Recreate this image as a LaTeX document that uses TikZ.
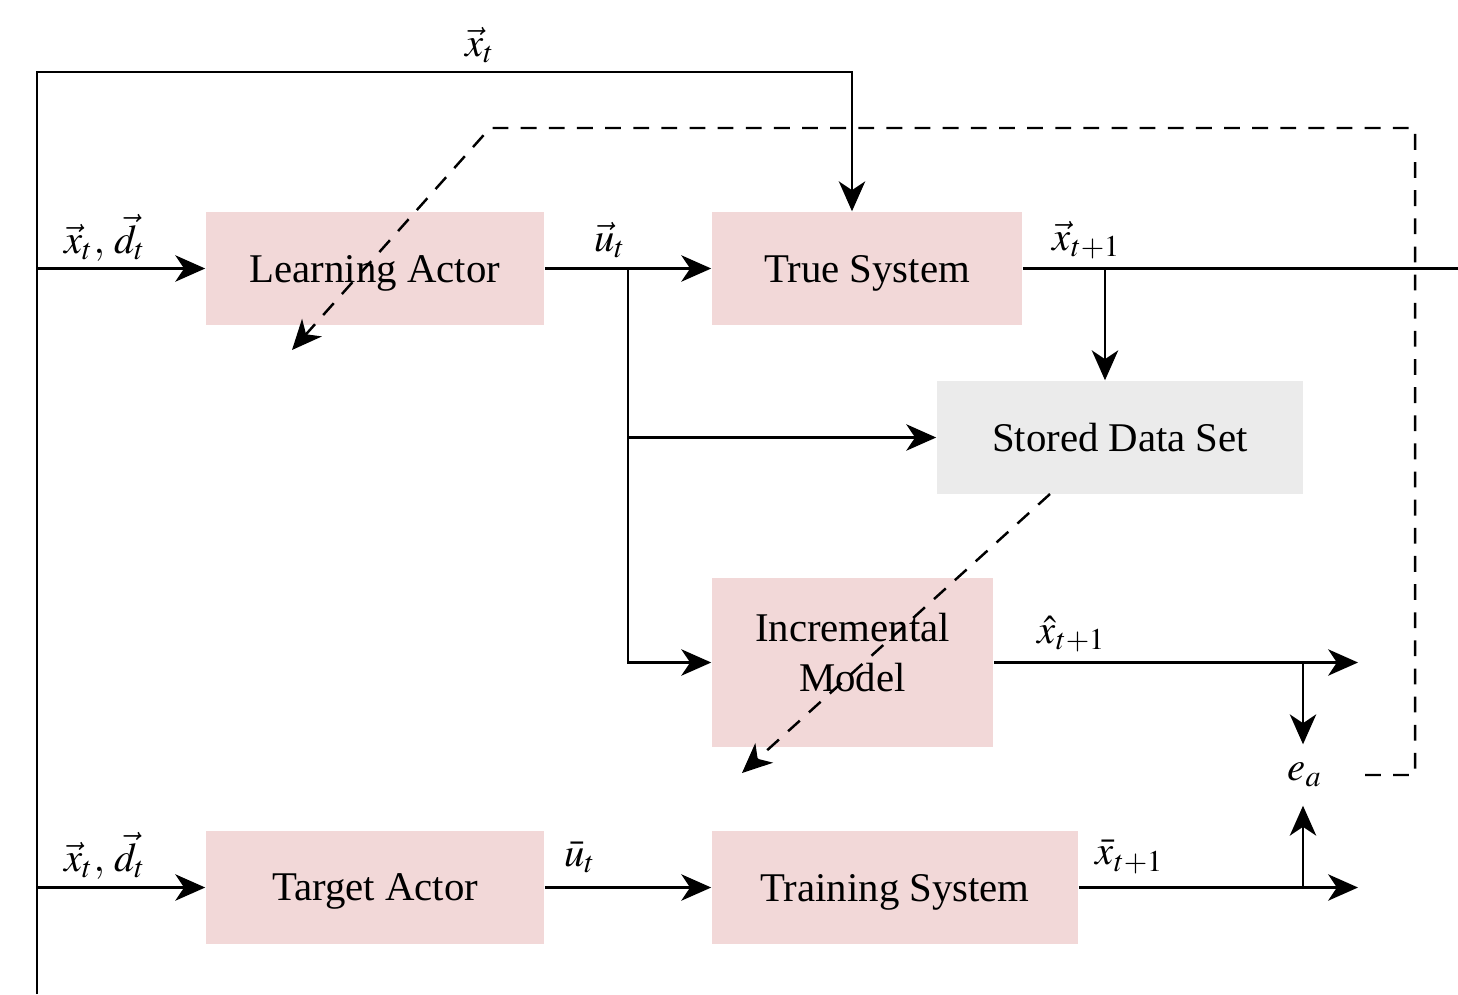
\documentclass[tikz,border=0pt]{standalone}
\usepackage{mathptmx}
\usepackage{fontspec}
\setmainfont{Liberation Serif}
\usetikzlibrary{arrows.meta}
\definecolor{boxpink}{RGB}{242,216,216}
\definecolor{boxgray}{RGB}{235,235,235}
\tikzset{
  blk/.style={fill=boxpink, draw=none, inner sep=0pt, text depth=0pt, font=\fontsize{11.6}{14}\selectfont},
  gblk/.style={blk, fill=boxgray},
  conn/.style={line width=0.7pt},
  tip/.style={-{Stealth[length=8.5pt, width=7.5pt, inset=2.5pt]}},
  arr/.style={conn, tip},
  dsh/.style={line width=0.7pt, dash pattern=on 4.5pt off 3.5pt, tip},
  lbl/.style={font=\fontsize{11.6}{14}\selectfont, inner sep=0pt}
}
\begin{document}
\begin{tikzpicture}[x=0.01cm, y=-0.01cm]
\useasboundingbox (0,0) rectangle (1458,994);
% boxes
\node[blk, minimum width=3.38cm, minimum height=1.13cm] (la) at (375,268.5) {Learning Actor};
\node[blk, minimum width=3.10cm, minimum height=1.13cm] (ts) at (867,268.5) {True System};
\node[gblk, minimum width=3.66cm, minimum height=1.13cm] (sd) at (1120,437.5) {Stored Data Set};
\node[blk, minimum width=2.81cm, minimum height=1.69cm,
      label={[lbl, align=center, yshift=0.1cm]center:Incremental\\Model}] (im) at (852.5,662.5) {};
\node[blk, minimum width=3.38cm, minimum height=1.13cm] (ta) at (375,887.5) {Target Actor};
\node[blk, minimum width=3.66cm, minimum height=1.13cm] (trs) at (895,887.5) {Training System};
\node[lbl, minimum height=0.6cm] (ea) at (1305,775) {$e_a$};
% coordinates
\coordinate (tl) at (37,72);
\coordinate (bl) at (37,994);
\coordinate (tr) at (852,72);
\coordinate (b1) at (628,268.5);
\coordinate (b2) at (1105,268.5);
\coordinate (xe) at (1458,268.5);
\coordinate (b3) at (1303,662.5);
\coordinate (xh) at (1358,662.5);
\coordinate (b4) at (1303,887.5);
\coordinate (xb) at (1358,887.5);
\coordinate (d1) at (1365,775);
\coordinate (d2) at (1415,775);
\coordinate (d3) at (1415,128);
\coordinate (d4) at (490,128);
\coordinate (d5) at (292,350);
\coordinate (s1) at (1050,494);
\coordinate (s2) at (742,773);
% connectors
\draw[arr] (bl) -- (tl) -- (tr) -- (ts.north -| tr);
\draw[arr] (la.west -| tl) -- (la.west);
\draw[arr] (ta.west -| tl) -- (ta.west);
\draw[arr] (la.east) -- (ts.west);
\draw[arr] (b1) |- (im.west);
\draw[arr] (b1 |- sd.west) -- (sd.west);
\draw[conn] (ts.east) -- (xe);
\draw[arr] (b2) -- (sd.north -| b2);
\draw[arr] (im.east) -- (xh);
\draw[arr] (b3) -- (ea.north -| b3);
\draw[arr] (ta.east) -- (trs.west);
\draw[arr] (trs.east) -- (xb);
\draw[arr] (b4) -- (ea.south -| b4);
\draw[dsh] (d1) -- (d2) -- (d3) -- (d4) -- (d5);
\draw[dsh] (s1) -- (s2);
% labels
\node[lbl] (l1) at (480,45) {$\vec{x}_t$};
\node[lbl] (l2) at (105,238) {$\vec{x}_t,\,\vec{d}_t$};
\node[lbl] (l3) at (105,856) {$\vec{x}_t,\,\vec{d}_t$};
\node[lbl] (l4) at (610,240) {$\vec{u}_t$};
\node[lbl] (l5) at (1087,240) {$\vec{x}_{t+1}$};
\node[lbl] (l6) at (1072,634) {$\hat{x}_{t+1}$};
\node[lbl] (l7) at (580,857) {$\bar{u}_t$};
\node[lbl] (l8) at (1130,857) {$\bar{x}_{t+1}$};
\end{tikzpicture}
\end{document}
